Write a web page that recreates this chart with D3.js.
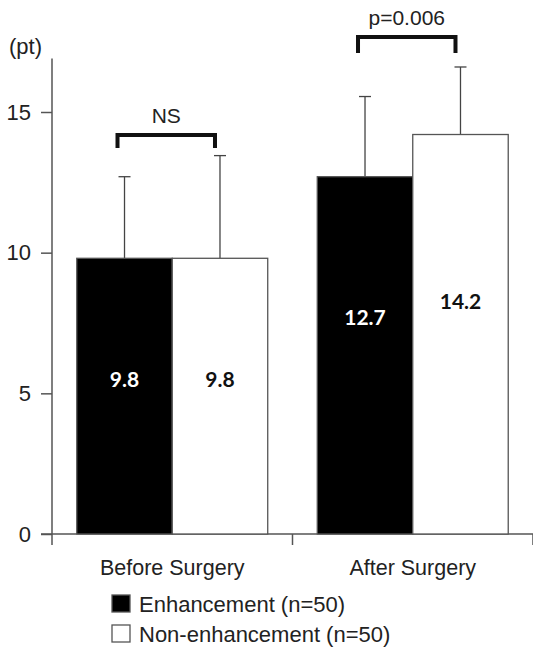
<!DOCTYPE html>
<html>
<head>
<meta charset="utf-8">
<script src="https://cdn.jsdelivr.net/npm/d3@7"></script>
<style>
  body { margin: 0; background: #fff; }
  svg { display: block; font-family: "Liberation Sans", Arial, sans-serif; }
</style>
</head>
<body>
<div id="chart"></div>
<script>
const groups = ["Before Surgery", "After Surgery"];
const series = ["Enhancement (n=50)", "Non-enhancement (n=50)"];
const means = [[9.8, 9.8], [12.7, 14.2]];
const errorTops = [[12.7, 13.45], [15.55, 16.6]];
const yTicks = [0, 5, 10, 15];
const brackets = ["NS", "p=0.006"];

document.addEventListener("DOMContentLoaded", function () {
  const width = 533, height = 647;
  const svg = d3.select("#chart").append("svg")
    .attr("width", width).attr("height", height);

  const y = d3.scaleLinear().domain([0, 15]).range([534, 112]);
  const x0 = d3.scaleBand().domain(groups).range([52, 533])
    .paddingInner(0.206).paddingOuter(0.103);
  const x1 = d3.scaleBand().domain(series).range([0, x0.bandwidth()]);
  const fills = ["#000", "#fff"];
  const axisColor = "#555";

  // y axis
  const yAxis = svg.append("g")
    .attr("transform", "translate(52,0)")
    .call(d3.axisLeft(y).tickValues(yTicks).tickSize(11).tickPadding(10));
  yAxis.select(".domain").remove();
  yAxis.selectAll(".tick line").attr("stroke", axisColor).attr("stroke-width", 1.5);
  yAxis.selectAll(".tick text").attr("font-size", 22).attr("fill", "#222")
    .attr("font-family", "Liberation Sans, Arial, sans-serif");
  svg.append("line").attr("x1", 52).attr("x2", 52)
    .attr("y1", y(16.9)).attr("y2", 545)
    .attr("stroke", axisColor).attr("stroke-width", 1.5);
  svg.append("text").attr("x", 9).attr("y", 54)
    .attr("font-size", 22).attr("fill", "#222").text("(pt)");

  // x axis
  svg.append("line").attr("x1", 41).attr("x2", 533)
    .attr("y1", y(0)).attr("y2", y(0))
    .attr("stroke", axisColor).attr("stroke-width", 1.5);
  const bounds = [x0.range()[0] + x0.step(), x0.range()[1]];
  svg.selectAll(".xtick").data(bounds).enter().append("line")
    .attr("x1", d => d).attr("x2", d => d)
    .attr("y1", y(0)).attr("y2", 545)
    .attr("stroke", axisColor).attr("stroke-width", 1.5);
  svg.selectAll(".xlabel").data(groups).enter().append("text")
    .attr("x", d => x0(d) + x0.bandwidth() / 2)
    .attr("y", 575)
    .attr("text-anchor", "middle")
    .attr("font-size", 21.5).attr("fill", "#222")
    .text(d => d);

  // bars
  const g = svg.selectAll(".group").data(groups).enter().append("g")
    .attr("transform", d => `translate(${x0(d)},0)`);

  groups.forEach((grp, gi) => {
    const gg = g.filter(d => d === grp);
    series.forEach((s, si) => {
      const cx = x1(s) + x1.bandwidth() / 2;
      // error bar
      gg.append("line").attr("x1", cx).attr("x2", cx)
        .attr("y1", y(means[gi][si])).attr("y2", y(errorTops[gi][si]))
        .attr("stroke", "#444").attr("stroke-width", 1.3);
      gg.append("line").attr("x1", cx - 6).attr("x2", cx + 6)
        .attr("y1", y(errorTops[gi][si])).attr("y2", y(errorTops[gi][si]))
        .attr("stroke", "#444").attr("stroke-width", 1.3);
    });
    gg.selectAll("rect").data(series).enter().append("rect")
      .attr("x", d => x1(d))
      .attr("y", (d, si) => y(means[gi][si]))
      .attr("width", x1.bandwidth())
      .attr("height", (d, si) => y(0) - y(means[gi][si]))
      .attr("fill", (d, si) => fills[si])
      .attr("stroke", "#555").attr("stroke-width", 1.3);
  });

  // value labels
  const labelAt = [[5.5, 5.5], [7.7, 8.25]];
  groups.forEach((grp, gi) => {
    series.forEach((s, si) => {
      svg.append("text")
        .attr("x", x0(grp) + x1(s) + x1.bandwidth() / 2)
        .attr("y", y(labelAt[gi][si]))
        .attr("dy", "0.35em")
        .attr("text-anchor", "middle")
        .attr("font-family", "Lato, 'Open Sans', sans-serif")
        .attr("font-weight", "bold")
        .attr("font-size", 21)
        .attr("fill", si === 0 ? "#fff" : "#111")
        .text(means[gi][si].toFixed(1));
    });
  });

  // significance brackets
  const bracketY = [[135, 148], [37, 53]];
  groups.forEach((grp, gi) => {
    const xa = x0(grp) + x1(series[0]) + x1.bandwidth() / 2 - 7;
    const xb = x0(grp) + x1(series[1]) + x1.bandwidth() / 2 - 5;
    const [top, bot] = bracketY[gi];
    svg.append("path")
      .attr("d", `M${xa},${bot}V${top}H${xb}V${bot}`)
      .attr("fill", "none").attr("stroke", "#111").attr("stroke-width", 4);
    svg.append("text")
      .attr("x", (xa + xb) / 2).attr("y", top - 12)
      .attr("text-anchor", "middle")
      .attr("font-size", 21).attr("fill", "#222")
      .text(brackets[gi]);
  });

  // legend
  const legend = svg.selectAll(".legend").data(series).enter().append("g")
    .attr("transform", (d, i) => `translate(112,${595 + i * 30})`);
  legend.append("rect").attr("width", 18).attr("height", 17)
    .attr("fill", (d, i) => fills[i]).attr("stroke", "#555").attr("stroke-width", 1.3);
  legend.append("text").attr("x", 27).attr("y", 9).attr("dy", "0.35em")
    .attr("font-size", 22).attr("fill", "#222").text(d => d);
});
</script>
</body>
</html>
